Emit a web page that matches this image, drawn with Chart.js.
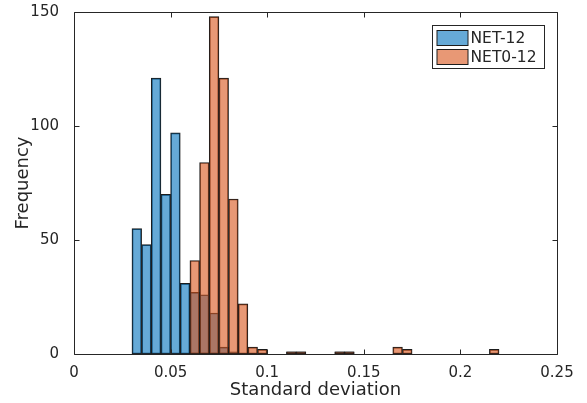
<!DOCTYPE html>
<html lang="en">
<head>
    <meta charset="UTF-8">
    <title>Standard deviation histogram</title>
    <script src="https://cdn.jsdelivr.net/npm/chart.js"></script>
    <style>
        html, body {
            margin: 0;
            padding: 0;
            background: #ffffff;
        }
        .chart-box {
            width: 587px;
            height: 403px;
            position: relative;
        }
    </style>
</head>
<body>
    <div class="chart-box">
        <canvas id="histChart"></canvas>
    </div>

    <script>
        // histogram bins (left edges) and counts, bin width 0.005
        const binWidth = 0.005;
        const netBins = [0.03, 0.035, 0.04, 0.045, 0.05, 0.055, 0.06, 0.065, 0.07, 0.075, 0.08, 0.11, 0.115, 0.135, 0.14];
        const netCounts = [55, 48, 121, 70, 97, 31, 27, 26, 18, 3, 1, 1, 1, 1, 1];
        const net0Bins = [0.06, 0.065, 0.07, 0.075, 0.08, 0.085, 0.09, 0.095, 0.11, 0.115, 0.135, 0.14, 0.165, 0.17, 0.215];
        const net0Counts = [41, 84, 148, 121, 68, 22, 3, 2, 1, 1, 1, 1, 3, 2, 2];

        const seriesNames = ['NET-12', 'NET0-12'];
        const xTicks = [0, 0.05, 0.1, 0.15, 0.2, 0.25];
        const yTicks = [0, 50, 100, 150];

        const netColor = 'rgba(0, 114, 189, 0.6)';
        const net0Color = 'rgba(217, 83, 25, 0.6)';
        const edgeColor = '#1c1c1c';
        const axisColor = '#262626';
        const fontFamily = "'DejaVu Sans', sans-serif";

        function toPoints(bins, counts) {
            return bins.map((b, i) => ({ x: +(b + binWidth / 2).toFixed(4), y: counts[i] }));
        }

        // box around the axes with inward ticks on all four sides
        const framePlugin = {
            id: 'frame',
            afterDraw(chart) {
                const ctx = chart.ctx;
                const area = chart.chartArea;
                const xs = chart.scales.x;
                const ys = chart.scales.y;
                const len = 5;
                const l = Math.round(area.left) + 0.5;
                const r = Math.round(area.right) + 0.5;
                const t = Math.round(area.top) + 0.5;
                const b = Math.round(area.bottom) + 0.5;
                ctx.save();
                ctx.strokeStyle = axisColor;
                ctx.lineWidth = 1;
                ctx.beginPath();
                ctx.moveTo(l, t);
                ctx.lineTo(r, t);
                ctx.lineTo(r, b);
                ctx.lineTo(l, b);
                ctx.closePath();
                xTicks.forEach(v => {
                    const px = Math.round(xs.getPixelForValue(v)) + 0.5;
                    ctx.moveTo(px, b);
                    ctx.lineTo(px, b - len);
                    ctx.moveTo(px, t);
                    ctx.lineTo(px, t + len);
                });
                yTicks.forEach(v => {
                    const py = Math.round(ys.getPixelForValue(v)) + 0.5;
                    ctx.moveTo(l, py);
                    ctx.lineTo(l + len, py);
                    ctx.moveTo(r, py);
                    ctx.lineTo(r - len, py);
                });
                ctx.stroke();
                ctx.restore();
            }
        };

        // legend box in the upper right corner of the axes
        const legendBoxPlugin = {
            id: 'legendBox',
            afterDraw(chart) {
                const ctx = chart.ctx;
                const area = chart.chartArea;
                const boxW = 112, boxH = 43;
                const x0 = Math.round(area.right - 13 - boxW) + 0.5;
                const y0 = Math.round(area.top + 13) + 0.5;
                ctx.save();
                ctx.fillStyle = '#ffffff';
                ctx.fillRect(x0, y0, boxW, boxH);
                ctx.strokeStyle = axisColor;
                ctx.lineWidth = 1;
                ctx.strokeRect(x0, y0, boxW, boxH);
                ctx.font = '15.5px ' + fontFamily;
                ctx.textBaseline = 'middle';
                const colors = [netColor, net0Color];
                seriesNames.forEach((name, i) => {
                    const sy = y0 + 5 + i * 19;
                    ctx.fillStyle = colors[i];
                    ctx.fillRect(x0 + 4.5, sy, 31, 15);
                    ctx.strokeStyle = edgeColor;
                    ctx.strokeRect(x0 + 4.5, sy, 31, 15);
                    ctx.fillStyle = axisColor;
                    ctx.fillText(name, x0 + 38, sy + 8);
                });
                ctx.restore();
            }
        };

        new Chart(document.getElementById('histChart').getContext('2d'), {
            type: 'bar',
            data: {
                datasets: [{
                    label: seriesNames[0],
                    data: toPoints(netBins, netCounts),
                    backgroundColor: netColor,
                    borderColor: edgeColor,
                    borderWidth: 1,
                    borderSkipped: false,
                    grouped: false,
                    barPercentage: 1,
                    categoryPercentage: 1,
                    order: 1
                }, {
                    label: seriesNames[1],
                    data: toPoints(net0Bins, net0Counts),
                    backgroundColor: net0Color,
                    borderColor: edgeColor,
                    borderWidth: 1,
                    borderSkipped: false,
                    grouped: false,
                    barPercentage: 1,
                    categoryPercentage: 1,
                    order: 0
                }]
            },
            options: {
                responsive: true,
                maintainAspectRatio: false,
                animation: false,
                layout: {
                    padding: { top: 12, right: 30, left: 0, bottom: 0 }
                },
                scales: {
                    x: {
                        type: 'linear',
                        min: 0,
                        max: 0.25,
                        offset: false,
                        afterBuildTicks: scale => {
                            scale.ticks = xTicks.map(v => ({ value: v }));
                        },
                        afterFit: scale => {
                            scale.height = 49;
                        },
                        ticks: {
                            color: axisColor,
                            font: { family: fontFamily, size: 15 },
                            padding: 2,
                            maxRotation: 0,
                            callback: value => String(+value.toFixed(2))
                        },
                        grid: { display: false },
                        border: { display: false },
                        title: {
                            display: true,
                            text: 'Standard deviation',
                            color: axisColor,
                            font: { family: fontFamily, size: 18 },
                            padding: { top: 0, bottom: 2 }
                        }
                    },
                    y: {
                        min: 0,
                        max: 150,
                        afterBuildTicks: scale => {
                            scale.ticks = yTicks.map(v => ({ value: v }));
                        },
                        afterFit: scale => {
                            scale.width = 74;
                            scale.paddingTop = 0;
                            scale.paddingBottom = 0;
                        },
                        ticks: {
                            color: axisColor,
                            font: { family: fontFamily, size: 15 },
                            padding: 7
                        },
                        grid: { display: false },
                        border: { display: false },
                        title: {
                            display: true,
                            text: 'Frequency',
                            color: axisColor,
                            font: { family: fontFamily, size: 18 },
                            padding: { top: 13, bottom: 0 }
                        }
                    }
                },
                plugins: {
                    legend: { display: false },
                    tooltip: { enabled: false }
                }
            },
            plugins: [framePlugin, legendBoxPlugin]
        });
    </script>
</body>
</html>
